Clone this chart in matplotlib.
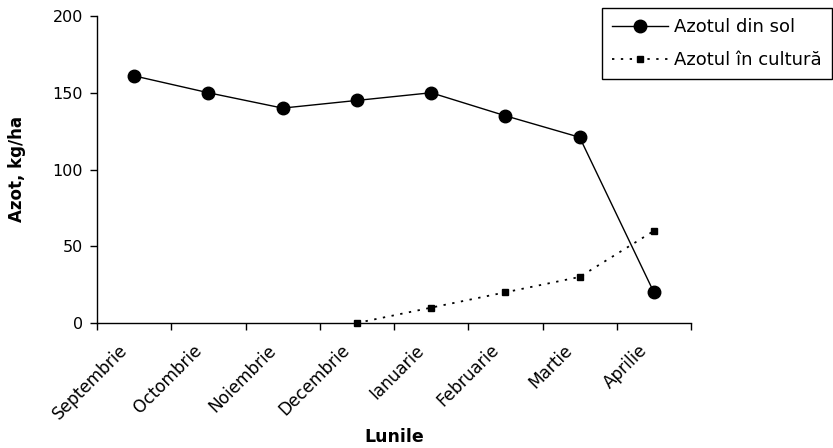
import matplotlib
matplotlib.use("Agg")
import matplotlib.pyplot as plt
import matplotlib.transforms as mtransforms
import numpy as np

plt.rcParams['font.family'] = ['DejaVu Sans']

months = ["Septembrie", "Octombrie", "Noiembrie", "Decembrie",
          "Ianuarie", "Februarie", "Martie", "Aprilie"]
azot_sol = [161, 150, 140, 145, 150, 135, 121, 20]
azot_cultura_months = ["Decembrie", "Ianuarie", "Februarie", "Martie", "Aprilie"]
azot_cultura = [0, 10, 20, 30, 60]

fig = plt.figure(figsize=(8.33, 4.48), dpi=100)
ax = fig.add_axes([97/833, 1-323/448, (691-97)/833, (323-16)/448])

x = np.arange(len(months)) + 0.5
xc = np.array([months.index(m) for m in azot_cultura_months]) + 0.5

ax.plot(x, azot_sol, color='black', lw=1.0, marker='o', markersize=9,
        label='Azotul din sol', clip_on=False, zorder=3)
ax.plot(xc, azot_cultura, color='black', lw=1.3, ls=(0, (1.3, 3.6)), marker='s',
        markersize=5, label='Azotul în cultură', clip_on=False, zorder=3)

ax.set_xlim(0, len(months))
ax.set_ylim(0, 200)
ax.set_yticks([0, 50, 100, 150, 200])
ax.set_xticks(np.arange(len(months) + 1))
ax.set_xticklabels([])
ax.set_xticks(x, minor=True)
ax.set_xticklabels(months, minor=True, rotation=45, ha='right', va='top',
                   rotation_mode='anchor', fontsize=12.2)
ax.tick_params(axis='x', which='minor', length=0, pad=13)
ax.tick_params(axis='x', which='major', length=5, direction='out', width=1)
ax.tick_params(axis='y', length=5, direction='out', width=1, labelsize=11.5, pad=5)

offset = mtransforms.ScaledTranslation(-16/100, 0, fig.dpi_scale_trans)
for lbl in ax.get_xticklabels(minor=True):
    lbl.set_transform(lbl.get_transform() + offset)

for s in ['top', 'right']:
    ax.spines[s].set_visible(False)
for s in ['left', 'bottom']:
    ax.spines[s].set_linewidth(1.0)

fig.text(17/833, 1 - 169/448, 'Azot, kg/ha', fontsize=12, fontweight='bold',
         rotation=90, ha='center', va='center')
fig.text(394/833, 1 - 437/448, 'Lunile', fontsize=12.5,
         fontweight='bold', ha='center', va='center')

leg = ax.legend(loc='upper left', bbox_to_anchor=(602/833, 1 - 8/448),
                bbox_transform=fig.transFigure, fontsize=13, frameon=True,
                fancybox=False, edgecolor='black', framealpha=1,
                handlelength=3.1, numpoints=1, borderpad=0.55,
                labelspacing=0.85, handletextpad=0.35, borderaxespad=0)
leg.get_frame().set_linewidth(1.0)

fig.savefig('out.png', dpi=100)
